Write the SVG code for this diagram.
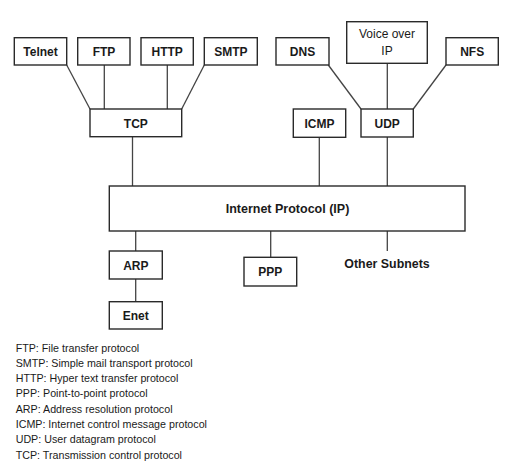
<svg xmlns="http://www.w3.org/2000/svg" width="511" height="470" viewBox="0 0 511 470">
<style>
.box{fill:#fff;stroke:#2a2a2a;stroke-width:1.4}
.lbl{font-family:"Liberation Sans",Arial,sans-serif;font-weight:bold;font-size:12px;fill:#1a1a1a;text-anchor:middle}
.reg{font-family:"Liberation Sans",Arial,sans-serif;font-size:12px;fill:#1a1a1a;text-anchor:middle}
.leg{font-family:"Liberation Sans",Arial,sans-serif;font-size:10.7px;fill:#1a1a1a}
.ln{stroke:#444;stroke-width:1.3;fill:none}
</style>
<rect width="511" height="470" fill="#fff"/>
<g id="connectors">
<line class="ln" x1="66.7" y1="65" x2="90" y2="109"/>
<line class="ln" x1="104.3" y1="65" x2="104.3" y2="109"/>
<line class="ln" x1="167.3" y1="65" x2="167.3" y2="109"/>
<line class="ln" x1="204.3" y1="65" x2="181.7" y2="109"/>
<line class="ln" x1="328.3" y1="65" x2="361" y2="109"/>
<line class="ln" x1="387.3" y1="63.3" x2="387.3" y2="109"/>
<line class="ln" x1="446" y1="65" x2="413.3" y2="109"/>
<line class="ln" x1="132.5" y1="136.7" x2="132.5" y2="186"/>
<line class="ln" x1="319.3" y1="137.3" x2="319.3" y2="186"/>
<line class="ln" x1="387.3" y1="137" x2="387.3" y2="186"/>
<line class="ln" x1="135.7" y1="231" x2="135.7" y2="251"/>
<line class="ln" x1="135.7" y1="279" x2="135.7" y2="301.7"/>
<line class="ln" x1="270.7" y1="231" x2="270.7" y2="257.3"/>
<line class="ln" x1="387.3" y1="231" x2="387.3" y2="251"/>
</g>
<g id="telnet"><rect class="box" x="14.3" y="37.7" width="52.4" height="27.3"/><text class="lbl" x="40.5" y="56">Telnet</text></g>
<g id="ftp"><rect class="box" x="77.7" y="37.7" width="52.3" height="27.3"/><text class="lbl" x="104" y="56">FTP</text></g>
<g id="http"><rect class="box" x="141" y="37.7" width="52.3" height="27.3"/><text class="lbl" x="167.2" y="56">HTTP</text></g>
<g id="smtp"><rect class="box" x="204.3" y="37.7" width="53" height="27.3"/><text class="lbl" x="230.8" y="56">SMTP</text></g>
<g id="dns"><rect class="box" x="276" y="37.7" width="53" height="27.3"/><text class="lbl" x="302.5" y="56">DNS</text></g>
<g id="voip"><rect class="box" x="346.7" y="21.7" width="80.6" height="41.6"/><text class="reg" x="387" y="38.3">Voice over</text><text class="reg" x="387" y="55">IP</text></g>
<g id="nfs"><rect class="box" x="446" y="37.7" width="52.3" height="27.3"/><text class="lbl" x="472.2" y="56">NFS</text></g>
<g id="tcp"><rect class="box" x="90" y="109" width="91.7" height="27.7"/><text class="lbl" x="135.8" y="127.5">TCP</text></g>
<g id="icmp"><rect class="box" x="293.3" y="109" width="52.4" height="28.3"/><text class="lbl" x="319.5" y="127.5">ICMP</text></g>
<g id="udp"><rect class="box" x="361" y="109" width="52.3" height="28"/><text class="lbl" x="387.2" y="127.5">UDP</text></g>
<g id="ip"><rect class="box" x="109.3" y="186" width="355.7" height="45"/><text class="lbl" x="287.5" y="213" style="font-size:12.5px">Internet Protocol (IP)</text></g>
<g id="arp"><rect class="box" x="109.3" y="251" width="53" height="28"/><text class="lbl" x="135.8" y="269.5">ARP</text></g>
<g id="enet"><rect class="box" x="109.3" y="301.7" width="53" height="27.3"/><text class="lbl" x="135.8" y="320">Enet</text></g>
<g id="ppp"><rect class="box" x="244" y="257.3" width="52.7" height="28.7"/><text class="lbl" x="270.3" y="276">PPP</text></g>
<g id="other"><text class="lbl" x="387" y="268.3" style="font-size:12.4px">Other Subnets</text></g>
<g id="legend">
<text class="leg" x="15.7" y="351.7">FTP: File transfer protocol</text>
<text class="leg" x="15.7" y="366.9">SMTP: Simple mail transport protocol</text>
<text class="leg" x="15.7" y="382.1">HTTP: Hyper text transfer protocol</text>
<text class="leg" x="15.7" y="397.3">PPP: Point-to-point protocol</text>
<text class="leg" x="15.7" y="412.5">ARP: Address resolution protocol</text>
<text class="leg" x="15.7" y="427.7">ICMP: Internet control message protocol</text>
<text class="leg" x="15.7" y="443">UDP: User datagram protocol</text>
<text class="leg" x="15.7" y="458.5">TCP: Transmission control protocol</text>
</g>
</svg>
